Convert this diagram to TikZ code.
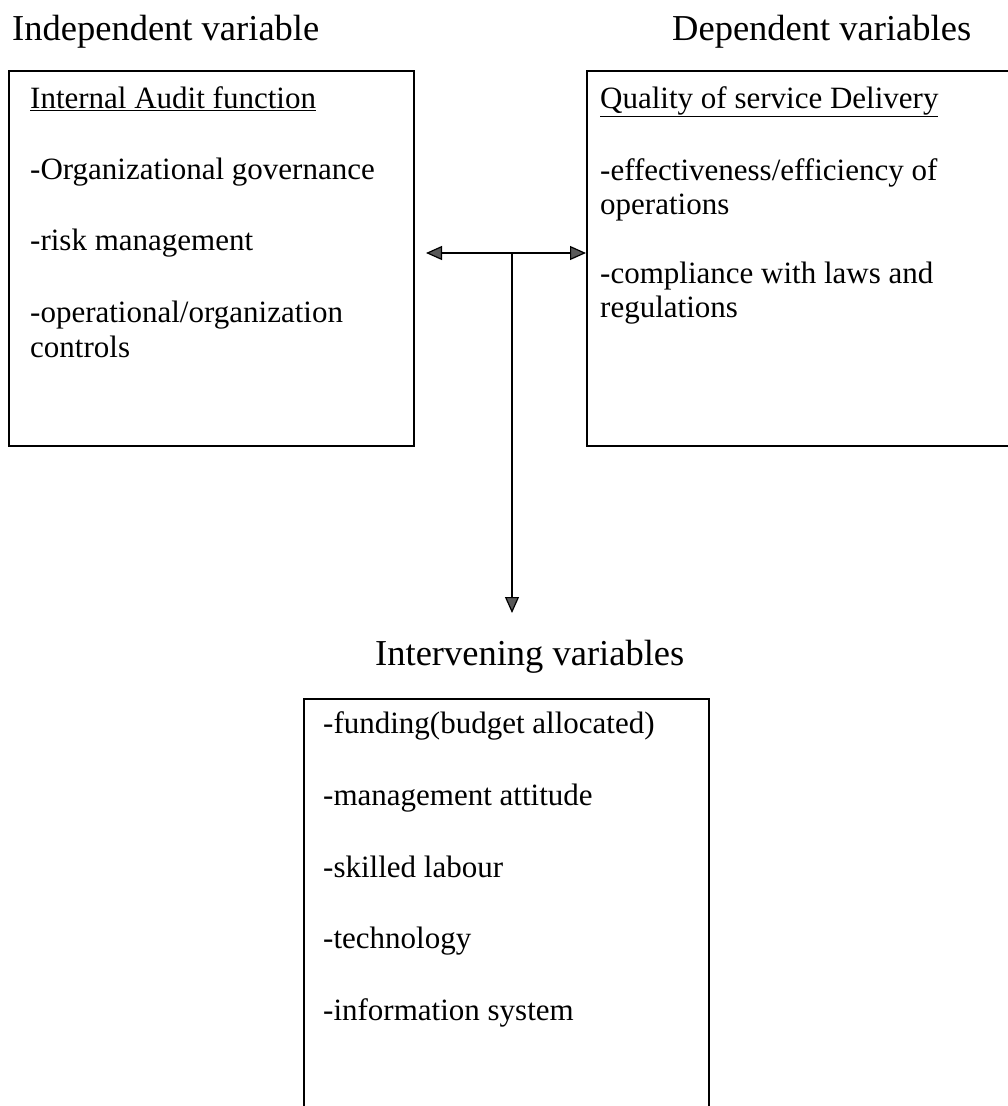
\documentclass[tikz,border=0pt]{standalone}
\usepackage{fontspec}
\setmainfont{Liberation Serif}
\usetikzlibrary{arrows.meta}
\begin{document}
\begin{tikzpicture}[x=1pt,y=-1pt,
  box/.style={draw,line width=2pt,anchor=north west,inner sep=0pt},
  txt/.style={anchor=base west,inner sep=0pt,font=\fontsize{31}{35}\selectfont},
  ttl/.style={anchor=base west,inner sep=0pt,font=\fontsize{36.5}{40}\selectfont},
  conn/.style={line width=1.8pt},
  headtip/.tip={Triangle[length=16pt,width=14pt,fill=black!65,line width=1.2pt]}
]
\useasboundingbox (0,0) rectangle (1008,1106);
\clip (0,0) rectangle (1008,1106);

% titles
\node[ttl] (t1) at (12,40) {Independent variable};
\node[ttl] (t2) at (672,40) {Dependent variables};
\node[ttl] (t3) at (375,665) {Intervening variables};

% boxes
\node[box,minimum width=405pt,minimum height=375pt] (L) at (8,70) {};
\node[box,minimum width=460pt,minimum height=375pt] (R) at (586,70) {};
\node[box,minimum width=405pt,minimum height=460pt] (B) at (303,698) {};

% left box text
\node[txt] (l1) at (30,108) {\underline{Internal Audit function}};
\node[txt] (l2) at (30,179) {-Organizational governance};
\node[txt] (l3) at (30,250) {-risk management};
\node[txt] (l4) at (30,322) {-operational/organization};
\node[txt] (l5) at (30,357) {controls};

% right box text
\node[txt] (r1) at (600,108) {\underline{Quality of service Delivery}};
\node[txt] (r2) at (600,180) {-effectiveness/efficiency of};
\node[txt] (r3) at (600,214) {operations};
\node[txt] (r4) at (600,283) {-compliance with laws and};
\node[txt] (r5) at (600,317) {regulations};

% bottom box text
\node[txt] (b1) at (323,733) {-funding(budget allocated)};
\node[txt] (b2) at (323,805) {-management attitude};
\node[txt] (b3) at (323,877) {-skilled labour};
\node[txt] (b4) at (323,948) {-technology};
\node[txt] (b5) at (323,1020) {-information system};

% connectors
\coordinate (j) at (512,253);
\coordinate (k) at (512,613);
\draw[conn,headtip-headtip,shorten <=11pt] (L.east |- j) -- (R.west |- j);
\draw[conn,-headtip] (j) -- (k);
\end{tikzpicture}
\end{document}
